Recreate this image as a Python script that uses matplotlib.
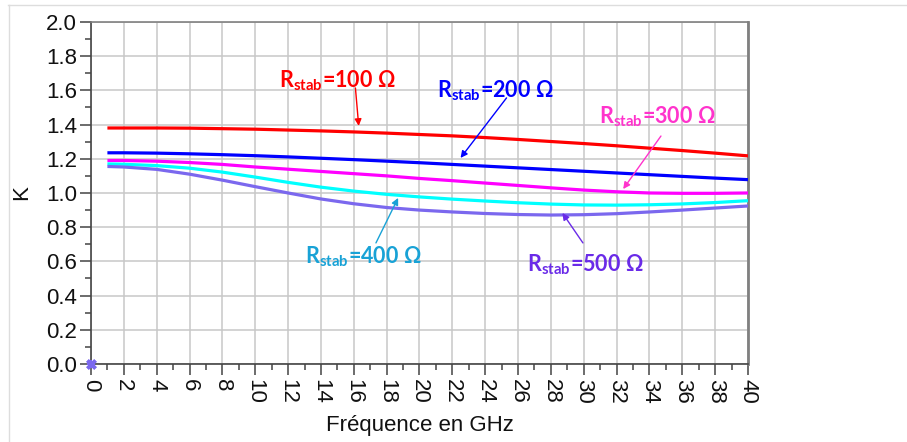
import numpy as np
import matplotlib
matplotlib.use("Agg")
import matplotlib.pyplot as plt
from matplotlib.lines import Line2D
from matplotlib.ticker import MultipleLocator

plt.rcParams['font.family'] = ['Liberation Sans', 'DejaVu Sans']
plt.rcParams['mathtext.fontset'] = 'custom'
plt.rcParams['mathtext.rm'] = 'Lato:bold'
plt.rcParams['mathtext.it'] = 'Lato:bold'
plt.rcParams['mathtext.bf'] = 'Lato:bold'

# stability factor K versus frequency for each stabilisation resistor
freq = [1, 2, 4, 6, 8, 10, 12, 14, 16, 18, 20, 22, 24, 26, 28, 30, 32, 34, 36, 38, 40]
k_100 = [1.38, 1.38, 1.38, 1.379, 1.376, 1.373, 1.368, 1.363, 1.357, 1.35, 1.342,
         1.334, 1.324, 1.313, 1.301, 1.289, 1.276, 1.262, 1.248, 1.233, 1.217]
k_200 = [1.235, 1.235, 1.233, 1.229, 1.224, 1.218, 1.211, 1.203, 1.195, 1.186, 1.177,
         1.167, 1.157, 1.147, 1.137, 1.127, 1.117, 1.107, 1.097, 1.087, 1.078]
k_300 = [1.19, 1.19, 1.186, 1.178, 1.167, 1.152, 1.139, 1.126, 1.113, 1.10, 1.085,
         1.072, 1.058, 1.044, 1.030, 1.017, 1.007, 1.0, 0.998, 0.998, 1.0]
k_400 = [1.17, 1.168, 1.16, 1.145, 1.122, 1.093, 1.062, 1.034, 1.011, 0.992, 0.977,
         0.964, 0.953, 0.943, 0.935, 0.93, 0.929, 0.931, 0.936, 0.944, 0.955]
k_500 = [1.155, 1.152, 1.138, 1.11, 1.075, 1.037, 1.0, 0.965, 0.937, 0.915, 0.9,
         0.889, 0.88, 0.874, 0.871, 0.873, 0.879, 0.889, 0.9, 0.912, 0.924]
origin_f = [0]
origin_k = [0]

series = [
    (k_100, '#FF0000'),
    (k_200, '#0000FF'),
    (k_300, '#FF00FF'),
    (k_400, '#00FFFF'),
    (k_500, '#7B68EE'),
]

# label text, text position, arrow tail, arrow tip, colour
notes = [
    ('100', (15.0, 1.655), (16.1, 1.614), (16.3, 1.392), '#FF0000'),
    ('200', (24.6, 1.60), (25.3, 1.556), (22.5, 1.205), '#0000FF'),
    ('300', (34.5, 1.445), (34.7, 1.333), (32.4, 1.023), '#FF33CC'),
    ('400', (16.6, 0.628), (17.35, 0.708), (18.7, 0.971), '#18A2D6'),
    ('500', (30.1, 0.58), (29.95, 0.708), (28.7, 0.883), '#6A2BE8'),
]

fig = plt.figure(figsize=(9.07, 4.42), dpi=100)
ax = fig.add_axes([0.1003, 0.1765, 0.7244, 0.7738])

for vals, col in series:
    ax.plot(freq, vals, color=col, lw=2.3, solid_capstyle='butt', zorder=3)
ax.plot(origin_f, origin_k, marker=(4, 2, 45), ls='none', color='#7B68EE',
        ms=8, mew=2.6, clip_on=False, zorder=4)
ax.plot(origin_f, origin_k, marker='+', ls='none', color='#7B68EE',
        ms=6, mew=1.5, clip_on=False, zorder=4)

for lab, txy, tail, tip, col in notes:
    ax.text(txy[0], txy[1], r'$\mathrm{R_{stab}}$=' + lab + ' Ω', color=col,
            fontsize=15.5, fontweight='bold', family='Lato', ha='center', va='center')
    ax.annotate('', xy=tip, xytext=tail,
                arrowprops=dict(arrowstyle='-|>', color=col, lw=1.0,
                                mutation_scale=10, shrinkA=0, shrinkB=0))

ax.set_xlim(0, 40)
ax.set_ylim(0, 2.0)
ax.xaxis.set_major_locator(MultipleLocator(2))
ax.xaxis.set_minor_locator(MultipleLocator(1))
ax.yaxis.set_major_locator(MultipleLocator(0.2))
ax.yaxis.set_minor_locator(MultipleLocator(0.1))
ax.yaxis.set_major_formatter(matplotlib.ticker.FormatStrFormatter('%.1f'))
ax.grid(True, which='major', color='#C8C8C8', lw=1.1)
ax.set_axisbelow(True)

ax.tick_params(which='major', length=8, width=1.1, color='#444444',
               labelsize=16, labelcolor='#111111', pad=2)
ax.tick_params(which='minor', length=4, width=1.1, color='#444444')
ax.tick_params(axis='x', labelrotation=-90, pad=3)

for side in ('left', 'bottom'):
    ax.spines[side].set_color('#444444')
    ax.spines[side].set_linewidth(1.2)
for side in ('top', 'right'):
    ax.spines[side].set_color('#808080')
ax.spines['top'].set_linewidth(1.2)
ax.spines['right'].set_linewidth(2.0)

ax.set_xlabel('Fréquence en GHz', fontsize=16, color='#111111', labelpad=8)
ax.set_ylabel('K', fontsize=16, color='#111111', labelpad=10)

# thin frame lines along the top and left of the canvas
fig.add_artist(Line2D([8 / 907, 906 / 907], [1 - 4.5 / 442, 1 - 4.5 / 442],
                      color='#DDDDDD', lw=1.0))
fig.add_artist(Line2D([8.5 / 907, 8.5 / 907], [0, 1 - 4.5 / 442],
                      color='#DDDDDD', lw=1.0))

fig.savefig('out.png', dpi=100)
